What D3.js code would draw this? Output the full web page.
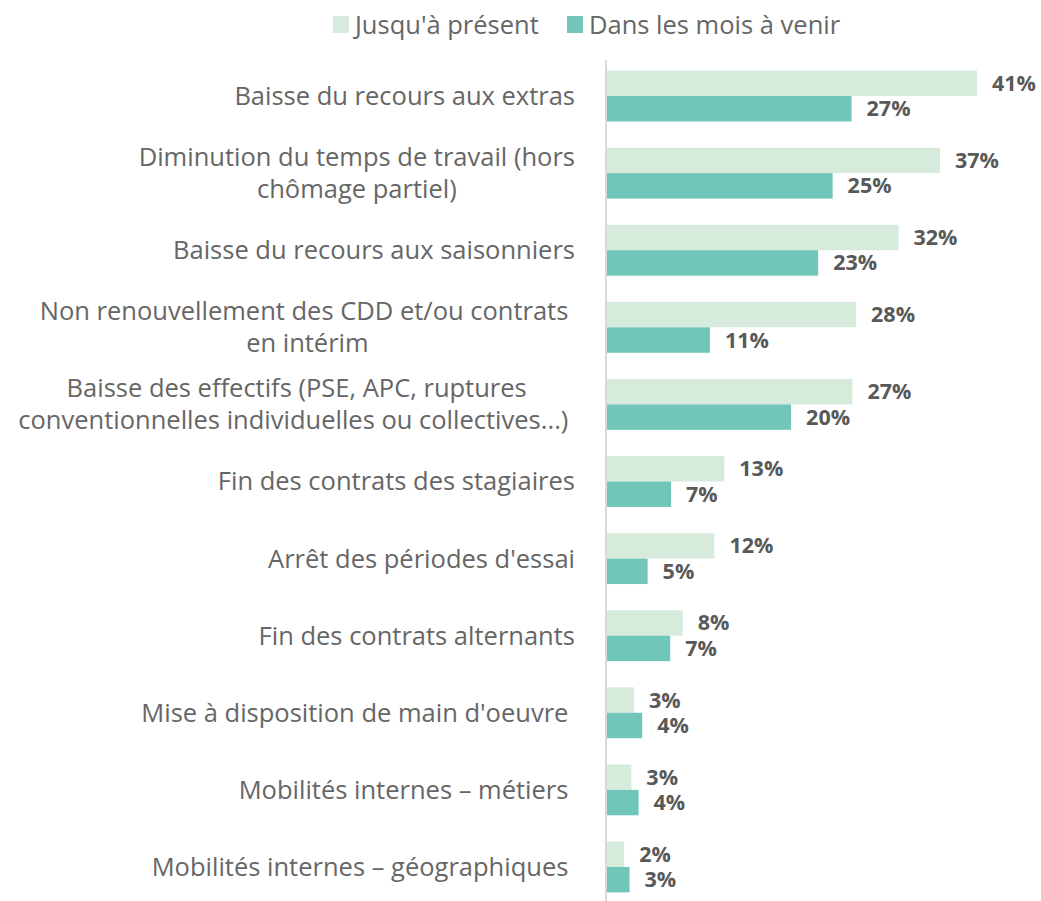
<!DOCTYPE html>
<html>
<head>
<meta charset="utf-8">
<script src="https://cdn.jsdelivr.net/npm/d3@7"></script>
<style>
  html, body { margin: 0; padding: 0; background: #fff; }
  svg { display: block; }
  text { white-space: pre; }
</style>
</head>
<body>
<svg id="chart" width="1041" height="901"></svg>
<script>
const categories = [
  ["Baisse du recours aux extras"],
  ["Diminution du temps de travail (hors", "chômage partiel)"],
  ["Baisse du recours aux saisonniers"],
  ["Non renouvellement des CDD et/ou contrats ", "en intérim"],
  ["Baisse des effectifs (PSE, APC, ruptures", "conventionnelles individuelles ou collectives...) "],
  ["Fin des contrats des stagiaires"],
  ["Arrêt des périodes d'essai"],
  ["Fin des contrats alternants"],
  ["Mise à disposition de main d'oeuvre "],
  ["Mobilités internes – métiers "],
  ["Mobilités internes – géographiques "]
];
const seriesNames = ["Jusqu'à présent", "Dans les mois à venir"];
const jusquaPresent = [41.0, 36.9, 32.3, 27.6, 27.2, 13.0, 11.9, 8.4, 3.0, 2.7, 1.9];
const moisAVenir    = [27.1, 25.0, 23.4, 11.4, 20.4, 7.1, 4.5, 7.0, 3.9, 3.5, 2.5];
const colors = ["#d7ebdd", "#70c6b8"];

const svg = d3.select("#chart");
const FONT = "'Open Sans', sans-serif";
const axisX = 607;

const x = d3.scaleLinear().domain([0, 41]).range([axisX, 977]);
const y0 = d3.scaleBand().domain(d3.range(categories.length))
  .range([57.5, 905.5]).paddingInner(0.34).paddingOuter(0.17);
const y1 = d3.scaleBand().domain([0, 1]).range([0, y0.bandwidth()]);

const series = [jusquaPresent, moisAVenir];

// bars
series.forEach((vals, s) => {
  svg.append("g").selectAll("rect").data(vals).join("rect")
    .attr("x", x(0))
    .attr("y", (d, i) => y0(i) + y1(s))
    .attr("width", d => x(d) - x(0))
    .attr("height", y1.bandwidth())
    .attr("fill", colors[s]);
  svg.append("g").selectAll("text").data(vals).join("text")
    .attr("x", d => x(d) + 15)
    .attr("y", (d, i) => y0(i) + y1(s) + y1.bandwidth() / 2)
    .attr("dy", "0.35em")
    .attr("font-family", FONT)
    .attr("font-weight", "bold")
    .attr("font-size", 21.5)
    .attr("fill", "#595959")
    .text(d => Math.round(d) + "%");
});

// axis line
svg.append("line")
  .attr("x1", axisX - 1).attr("x2", axisX - 1)
  .attr("y1", 60).attr("y2", 901)
  .attr("stroke", "#d9d9d9").attr("stroke-width", 2);

// category labels
const labelRight = 575;
const lineH = 32;
categories.forEach((lines, i) => {
  const cy = y0(i) + y0.bandwidth() / 2;
  const g = svg.append("g");
  const texts = lines.map((ln, k) => g.append("text")
    .attr("font-family", FONT)
    .attr("font-size", 25.5)
    .attr("fill", "#666666")
    .attr("text-anchor", "middle")
    .attr("y", cy + (k - (lines.length - 1) / 2) * lineH)
    .attr("dy", "0.35em")
    .text(ln));
  const w = d3.max(texts, t => t.node().getComputedTextLength());
  texts.forEach(t => t.attr("x", labelRight - w / 2));
});

// legend
const legendItems = [
  {name: seriesNames[0], color: colors[0], x: 333},
  {name: seriesNames[1], color: colors[1], x: 567}
];
legendItems.forEach(it => {
  svg.append("rect").attr("x", it.x).attr("y", 16).attr("width", 16).attr("height", 17).attr("fill", it.color);
  svg.append("text").attr("x", it.x + 22).attr("y", 25).attr("dy", "0.35em")
    .attr("font-family", FONT).attr("font-size", 25.5).attr("fill", "#666666")
    .text(it.name);
});
</script>
</body>
</html>
